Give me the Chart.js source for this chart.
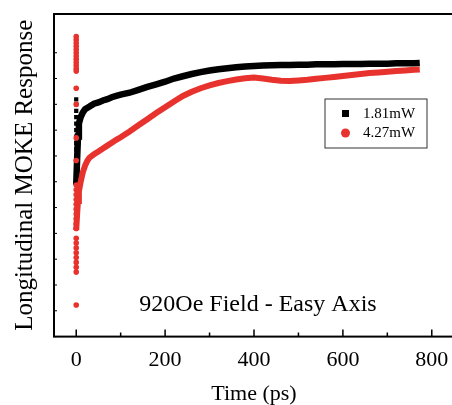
<!DOCTYPE html>
<html>
<head>
<meta charset="utf-8">
<script src="https://cdn.jsdelivr.net/npm/chart.js@4.4.1/dist/chart.umd.min.js"></script>
<style>
  html, body { margin: 0; padding: 0; background: #fff; overflow: hidden; }
  #wrap { width: 462px; height: 405px; }
</style>
</head>
<body>
<div id="wrap"><canvas id="mokeChart"></canvas></div>
<script>
// MOKE response vs time, two pump powers (signal in arb. units, 0-100)
const seriesNames = ['1.81mW', '4.27mW'];
const tickLabels = [0, 200, 400, 600, 800];
const xTickValues = [0, 100, 200, 300, 400, 500, 600, 700, 800];

const lowTime = [0, 2, 4, 6, 10, 15, 20, 30, 40, 50, 60, 70, 80, 90, 100, 120, 140, 160, 180, 200,
  220, 240, 260, 280, 300, 320, 340, 360, 380, 400, 420, 440, 460, 480, 500, 520, 540, 560, 580, 600,
  620, 640, 660, 680, 700, 720, 740, 760, 773];
const lowSignal = [47, 55, 62, 66, 68, 69.5, 70.5, 71.3, 72.2, 72.6, 73.2, 73.6, 74.2, 74.6, 75, 75.6, 76.5, 77.4, 78.2, 79,
  80, 80.7, 81.4, 82, 82.5, 82.9, 83.2, 83.5, 83.7, 83.9, 84, 84.1, 84.2, 84.2, 84.3, 84.3, 84.4, 84.4, 84.4, 84.5,
  84.5, 84.5, 84.6, 84.6, 84.6, 84.7, 84.7, 84.7, 84.8];
// scatter of points recorded at t = 0
const lowZero = [48, 50, 52, 54, 56, 58, 60, 62, 64, 66, 68, 70, 72, 73.5, 82.5, 83];

const highTime = [0, 2, 4, 6, 10, 15, 20, 25, 30, 40, 50, 60, 70, 80, 90, 100, 120, 140, 160, 180,
  200, 220, 240, 260, 280, 300, 320, 340, 360, 380, 400, 420, 440, 460, 480, 500, 520, 540, 560, 580,
  600, 620, 640, 660, 680, 700, 720, 740, 760, 773];
const highSignal = [33, 38, 42, 45, 48, 51, 53, 54.5, 55.5, 56.5, 57.4, 58.3, 59.2, 60.1, 61, 61.8, 63.6, 65.5, 67.4, 69.3,
  71.1, 72.9, 74.6, 75.9, 77, 77.9, 78.6, 79.2, 79.7, 80.1, 80.3, 80, 79.6, 79.3, 79.2, 79.4, 79.6, 79.9, 80.2, 80.5,
  80.8, 81.1, 81.4, 81.7, 81.9, 82.1, 82.3, 82.5, 82.7, 82.8];
const highZero = [93, 92, 91, 90, 89, 88, 87, 86, 85, 84, 83, 82.3, 77, 72, 61.6, 54.6,
  47, 45.5, 44, 42.5, 41, 39.5, 38, 36.5, 35, 33.5, 30.5, 29, 27.5, 26, 24.5, 23, 21.5, 20, 9.8];

const BLACK = '#000000';
const RED = '#e8322d';
const SERIF = "'Liberation Serif', 'Times New Roman', serif";

const pts = (xs, ys) => ys.map((v, i) => ({ x: xs[i], y: v }));
const zeroPts = ys => ys.map(v => ({ x: 0, y: v }));

// frame, inward ticks, legend box and caption
const decorations = {
  id: 'decorations',
  afterDraw(chart) {
    const { ctx, chartArea: a, scales: { x, y } } = chart;
    ctx.save();
    ctx.strokeStyle = '#000';
    ctx.lineWidth = 2;
    ctx.strokeRect(a.left, a.top, a.right - a.left, a.bottom - a.top);

    ctx.lineWidth = 1.5;
    ctx.beginPath();
    x.ticks.forEach(t => {
      const px = x.getPixelForValue(t.value);
      const len = tickLabels.includes(t.value) ? 7 : 4;
      ctx.moveTo(px, a.bottom);
      ctx.lineTo(px, a.bottom - len);
    });
    ctx.stroke();
    ctx.lineWidth = 1;
    ctx.beginPath();
    y.ticks.forEach(t => {
      const py = y.getPixelForValue(t.value);
      ctx.moveTo(a.left, py);
      ctx.lineTo(a.left + 3, py);
    });
    ctx.stroke();

    // legend
    const bx = a.left + 271, by = a.top + 85;
    ctx.lineWidth = 1;
    ctx.strokeStyle = '#333';
    ctx.strokeRect(bx, by, 102, 49);
    ctx.fillStyle = BLACK;
    ctx.fillRect(bx + 17, by + 11, 7, 7);
    ctx.fillStyle = RED;
    ctx.beginPath();
    ctx.arc(bx + 20.5, by + 34, 4.5, 0, Math.PI * 2);
    ctx.fill();
    ctx.fillStyle = '#000';
    ctx.font = '15px ' + SERIF;
    ctx.textBaseline = 'middle';
    ctx.textAlign = 'left';
    ctx.fillText(seriesNames[0], bx + 38, by + 15);
    ctx.fillText(seriesNames[1], bx + 38, by + 34);

    // caption
    ctx.font = '24px ' + SERIF;
    ctx.textAlign = 'center';
    ctx.fillText('920Oe Field - Easy Axis', a.left + 204, a.top + 291);
    ctx.restore();
  }
};

const ctx = document.getElementById('mokeChart').getContext('2d');

new Chart(ctx, {
  type: 'scatter',
  data: {
    datasets: [
      { // red drawn on top
        label: seriesNames[1] + ' t0',
        data: zeroPts(highZero),
        showLine: false,
        pointStyle: 'circle',
        pointRadius: 2.8,
        backgroundColor: RED,
        borderWidth: 0,
        order: 0
      },
      {
        label: seriesNames[1],
        data: pts(highTime, highSignal),
        showLine: true,
        borderColor: RED,
        borderWidth: 6,
        pointRadius: 0,
        order: 1
      },
      {
        label: seriesNames[0] + ' t0',
        data: zeroPts(lowZero),
        showLine: false,
        pointStyle: 'rect',
        pointRadius: 3,
        backgroundColor: BLACK,
        borderWidth: 0,
        order: 2
      },
      {
        label: seriesNames[0],
        data: pts(lowTime, lowSignal),
        showLine: true,
        borderColor: BLACK,
        borderWidth: 6.5,
        pointRadius: 0,
        order: 3
      }
    ]
  },
  options: {
    responsive: true,
    maintainAspectRatio: false,
    animation: false,
    layout: { padding: { left: 10, top: 14, right: 8, bottom: 0 } },
    plugins: {
      legend: { display: false },
      tooltip: { enabled: false }
    },
    scales: {
      x: {
        type: 'linear',
        min: -50,
        max: 850,
        afterBuildTicks: scale => {
          scale.ticks = xTickValues.map(v => ({ value: v }));
        },
        grid: { display: false, drawTicks: false },
        border: { display: false },
        ticks: {
          autoSkip: false,
          maxRotation: 0,
          padding: 10,
          color: '#000',
          font: { family: SERIF, size: 22 },
          callback: v => tickLabels.includes(v) ? String(v) : ''
        },
        title: {
          display: true,
          text: 'Time (ps)',
          color: '#000',
          font: { family: SERIF, size: 22, lineHeight: 1.0 },
          padding: { top: 0, bottom: 0 }
        }
      },
      y: {
        min: 0,
        max: 100,
        grid: { display: false, drawTicks: false },
        border: { display: false },
        ticks: { display: false, stepSize: 8 },
        title: {
          display: true,
          text: 'Longitudinal MOKE Response',
          color: '#000',
          font: { family: SERIF, size: 25 },
          padding: { top: 0, bottom: 14 }
        }
      }
    }
  },
  plugins: [decorations]
});
</script>
</body>
</html>
